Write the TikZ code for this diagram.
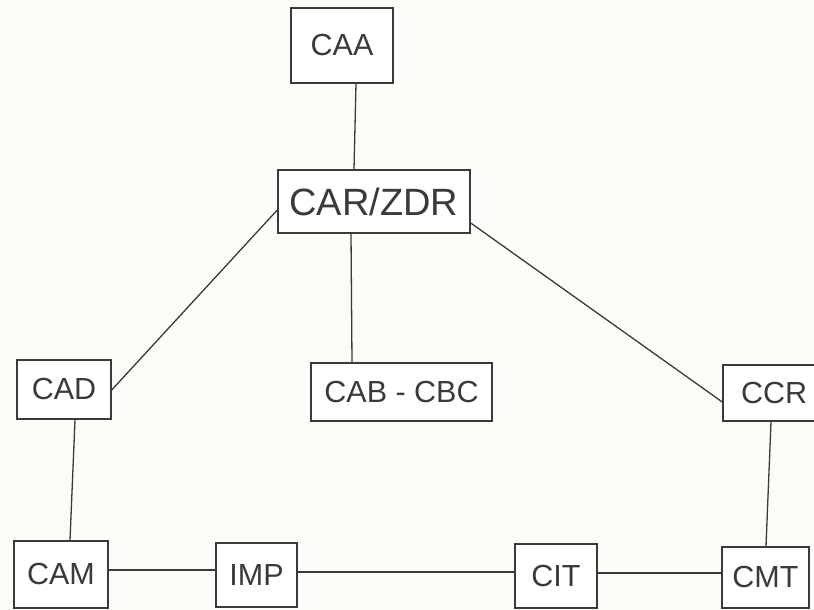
\documentclass[tikz,border=0pt]{standalone}
\usepackage{fontspec}
\setmainfont{Liberation Sans}
\definecolor{ink}{HTML}{3A3A3A}
\definecolor{paper}{HTML}{FCFBF8}
\begin{document}
\begin{tikzpicture}[x=1pt,y=1pt,
  box/.style={draw=ink, line width=1.4pt, text=ink, inner sep=0pt, font=\fontsize{30.5}{32}\selectfont, fill=white},
  link/.style={draw=ink, line width=1.3pt}]
\fill[paper] (0,0) rectangle (814,610);
\useasboundingbox (0,0) rectangle (814,610);
% y_tikz = 610 - y_px
\node[box, minimum width=102, minimum height=75] (caa) at (342,564.5) {CAA};
\node[box, minimum width=192, minimum height=63, font=\fontsize{38}{40}\selectfont] (car) at (374,408.5) {CAR/ZDR};
\node[box, minimum width=94, minimum height=59] (cad) at (64,220.5) {CAD};
\node[box, minimum width=181, minimum height=58] (cab) at (401.5,218) {CAB - CBC};
\node[box, minimum width=105, minimum height=56, text width=105, align=left] (ccr) at (775.5,217) {\hspace*{18pt}CCR};
\node[box, minimum width=94, minimum height=67] (cam) at (61,35.5) {CAM};
\node[box, minimum width=81, minimum height=64] (imp) at (256.5,35) {IMP};
\node[box, minimum width=82, minimum height=64] (cit) at (556,34) {CIT};
\node[box, minimum width=87, minimum height=61] (cmt) at (765.5,32.5) {CMT};
\draw[link] ([xshift=14]caa.south) -- ([xshift=-20]car.north);
\draw[link] ([xshift=-23]car.south) -- ([xshift=-49.5]cab.north);
\draw[link] ([yshift=-8.5]car.west) -- ([yshift=-0.5]cad.east);
\draw[link] ([yshift=-21.5]car.east) -- ([yshift=-9]ccr.west);
\draw[link] ([xshift=11]cad.south) -- ([xshift=9]cam.north);
\draw[link] ([xshift=-4.5]ccr.south) -- ([xshift=0.5]cmt.north);
\draw[link] ([yshift=4.5]cam.east) -- ([yshift=5]imp.west);
\draw[link] ([yshift=3]imp.east) -- ([yshift=4]cit.west);
\draw[link] ([yshift=3]cit.east) -- ([yshift=4.5]cmt.west);
\end{tikzpicture}
\end{document}
